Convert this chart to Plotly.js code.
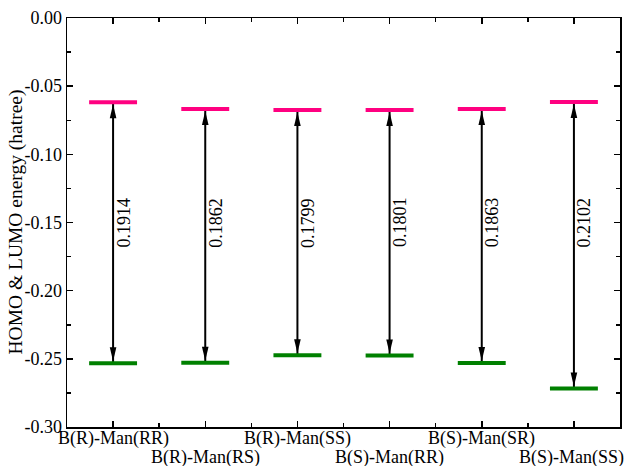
<!DOCTYPE html>
<html><head><meta charset="utf-8">
<script src="https://cdn.plot.ly/plotly-3.0.1.min.js"></script>
<style>html,body{margin:0;padding:0;background:#fff}</style>
</head><body><div id="chart" style="width:624px;height:466px"></div>
<script>
const categories = ["B(R)-Man(RR)","B(R)-Man(RS)","B(R)-Man(SS)","B(S)-Man(RR)","B(S)-Man(SR)","B(S)-Man(SS)"];
const lumo = [-0.0618,-0.0667,-0.0674,-0.0674,-0.0668,-0.0616];
const homo = [-0.2532,-0.2529,-0.2473,-0.2475,-0.2531,-0.2718];
const gapLabels = ["0.1914","0.1862","0.1799","0.1801","0.1863","0.2102"];
const yTickVals = [0,-0.05,-0.10,-0.15,-0.20,-0.25,-0.30];
const yTickText = ["0.00","-0.05","-0.10","-0.15","-0.20","-0.25","-0.30"];
const yTitle = "HOMO & LUMO energy (hatree)";
const gapLabelY = -0.15;

const FONT = '"Liberation Serif", "Times New Roman", "DejaVu Serif", serif';
const HW = 0.26; // half width of level bar (category units)
const idx = categories.map((c,i)=>i);

function levelTrace(vals, color, name){
  const xs=[], ys=[];
  vals.forEach((v,i)=>{ xs.push(i-HW, i+HW, null); ys.push(v, v, null); });
  return {type:'scatter', mode:'lines', x:xs, y:ys, name:name,
    line:{color:color, width:4}, hoverinfo:'skip', showlegend:false};
}
const shaftX=[], shaftY=[];
idx.forEach(i=>{ shaftX.push(i,i,null); shaftY.push(lumo[i], homo[i], null); });

const traces = [
  {type:'scatter', mode:'lines', x:shaftX, y:shaftY, line:{color:'black', width:2}, hoverinfo:'skip', showlegend:false},
  levelTrace(lumo, '#FF0080', 'LUMO'),
  levelTrace(homo, '#008000', 'HOMO')
];

const shapes = [];
idx.forEach(i=>{
  shapes.push({type:'path', xref:'x', yref:'y', xsizemode:'pixel', ysizemode:'pixel',
    xanchor:i, yanchor:lumo[i], path:'M0,-2 L-3.3,-16 L3.3,-16 Z',
    fillcolor:'black', line:{width:0}});
  shapes.push({type:'path', xref:'x', yref:'y', xsizemode:'pixel', ysizemode:'pixel',
    xanchor:i, yanchor:homo[i], path:'M0,2 L-3.3,16 L3.3,16 Z',
    fillcolor:'black', line:{width:0}});
});

const annotations = [];
idx.forEach(i=>{
  annotations.push({x:i, y:gapLabelY, xref:'x', yref:'y', text:gapLabels[i], showarrow:false,
    textangle:-90, xshift:10, font:{family:FONT, size:18, color:'black'}});
  const last = (i === categories.length-1);
  annotations.push({x:i, y:0, xref:'x', yref:'paper', text:categories[i], showarrow:false,
    yanchor:'middle', yshift:(i%2===0)?-11:-30, xshift:last?-2:0,
    font:{family:FONT, size:18, color:'black'}});
});
// y-axis title
annotations.push({x:0, y:0.5, xref:'paper', yref:'paper', text:yTitle, showarrow:false,
  textangle:-90, xanchor:'center', yanchor:'middle', xshift:-52,
  font:{family:FONT, size:19.5, color:'black'}});

const layout = {
  width:624, height:466,
  margin:{l:67, r:4, t:18, b:39},
  paper_bgcolor:'white', plot_bgcolor:'white',
  font:{family:FONT, size:18, color:'black'},
  showlegend:false,
  xaxis:{range:[-0.5,5.5], tickmode:'array', tickvals:idx, ticktext:idx.map(()=>''),
    showticklabels:false, ticks:'inside', ticklen:6, tickwidth:1.5, tickcolor:'black',
    minor:{tick0:0.5, dtick:1, ticks:'inside', ticklen:4, tickwidth:1.5, tickcolor:'black'},
    showline:true, linecolor:'black', linewidth:1.5, mirror:'ticks', showgrid:false, zeroline:false},
  yaxis:{range:[-0.30,0.00], tickmode:'array', tickvals:yTickVals, ticktext:yTickText,
    ticks:'inside', ticklen:6, tickwidth:1.5, tickcolor:'black',
    minor:{dtick:0.025, tick0:0, ticks:'inside', ticklen:4, tickwidth:1.5, tickcolor:'black'},
    showline:true, linecolor:'black', linewidth:1.5, mirror:'ticks', showgrid:false, zeroline:false,
    tickfont:{family:FONT, size:18, color:'black'}},
  shapes:shapes, annotations:annotations
};
Plotly.newPlot('chart', traces, layout, {staticPlot:true, displayModeBar:false});
</script></body></html>
